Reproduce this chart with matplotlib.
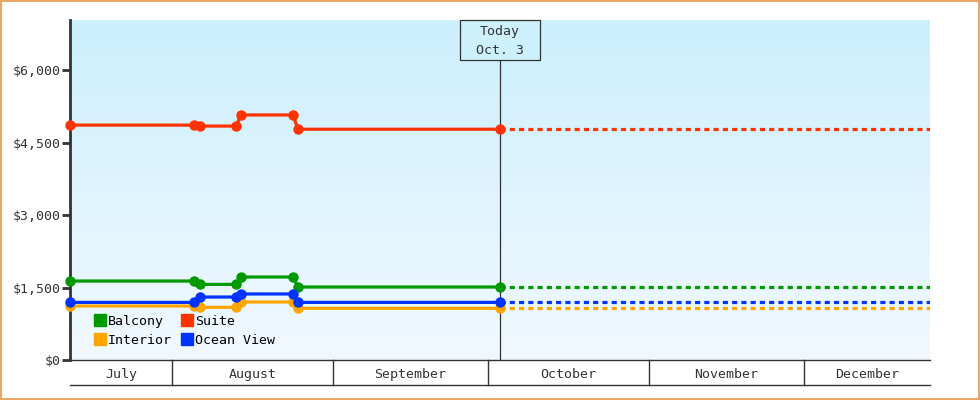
import numpy as np
import matplotlib
matplotlib.use("Agg")
import matplotlib.pyplot as plt
from matplotlib.patches import Rectangle
import matplotlib.transforms as mtransforms

# days counted from July 1
days = [11.3, 35.25, 36.4, 43.35, 44.3, 54.35, 55.3, 94.3]
balcony = [1634, 1634, 1565, 1565, 1717, 1717, 1510, 1510]
suite = [4860, 4860, 4840, 4840, 5070, 5070, 4775, 4775]
interior = [1117, 1117, 1090, 1090, 1200, 1200, 1069, 1069]
ocean_view = [1192, 1192, 1303, 1303, 1366, 1366, 1192, 1192]

months = ["July", "August", "September", "October", "November", "December"]
month_starts = [0, 31, 62, 92, 123, 153, 184]
yticks = [0, 1500, 3000, 4500, 6000]
today = 94.3
today_lines = ["Today", "Oct. 3"]

x_min, x_max = 11.3, 177.3
y_max = 7035

plt.rcParams['font.family'] = ['DejaVu Sans Mono']
dark = '#333333'

fig = plt.figure(figsize=(9.8, 4), dpi=100)
fig.patches.append(Rectangle((0.001, 0.002), 0.998, 0.995, transform=fig.transFigure,
                             fill=False, edgecolor='#e8a865', linewidth=1.5))
ax = fig.add_axes([70/980, 40/400, 860/980, 340/400])
ax.set_xlim(x_min, x_max)
ax.set_ylim(0, y_max)

# background gradient
grad = np.linspace(0, 1, 256).reshape(-1, 1)
top = np.array([204, 239, 253]) / 255
bot = np.array([241, 249, 255]) / 255
img = top * (1 - grad[..., None]) + bot * grad[..., None]
img = img.reshape(256, 1, 3)
ax.imshow(img, extent=[0, 1, 0, 1], transform=ax.transAxes, aspect='auto', zorder=0)

series = [("Balcony", balcony, '#009900'), ("Suite", suite, '#ff3300'),
          ("Interior", interior, '#ffa500'), ("Ocean View", ocean_view, '#0033ff')]
for name, vals, col in series:
    ax.plot(days, vals, color=col, lw=2.3, marker='o', ms=6.5, clip_on=False, zorder=3)
    ax.plot([days[-1], x_max], [vals[-1], vals[-1]], color=col, lw=2.3,
            linestyle=(0, (1.6, 1.3)), zorder=2)

# today marker with label box
trans = mtransforms.blended_transform_factory(ax.transData, ax.transAxes)
box_h = 40 / 340
box_w = 80 / 860 * (x_max - x_min)
ax.plot([today, today], [0, 1 - box_h], color=dark, lw=0.9, transform=trans, zorder=2)
ax.add_patch(Rectangle((today - box_w / 2, 1 - box_h), box_w, box_h, transform=trans,
                       fc='#cdf0fd', ec=dark, lw=0.9, zorder=4, clip_on=False))
ax.text(today, 1 - 12 / 340, today_lines[0], transform=trans, ha='center', va='center',
        fontsize=9.5, color=dark, zorder=5)
ax.text(today, 1 - 31 / 340, today_lines[1], transform=trans, ha='center', va='center',
        fontsize=9.5, color=dark, zorder=5)

# legend
handles = [plt.Line2D([], [], marker='s', color=c, ls='none', ms=9) for _, _, c in series]
labels = [n for n, _, _ in series]
order = [0, 2, 1, 3]
ax.legend([handles[i] for i in order], [labels[i] for i in order], ncol=2, loc='lower left',
          bbox_to_anchor=(0.01, 0.004), frameon=False, fontsize=9.5, handletextpad=-0.1,
          columnspacing=0.5, labelspacing=0.45, handlelength=1.4)

# axes styling
for s in ['top', 'right']:
    ax.spines[s].set_visible(False)
ax.spines['left'].set_linewidth(2)
ax.spines['left'].set_color(dark)
ax.spines['bottom'].set_linewidth(1)
ax.spines['bottom'].set_color(dark)
ax.set_yticks(yticks)
ax.set_yticklabels(["${:,}".format(v) for v in yticks])
ax.tick_params(axis='y', length=6, width=2, color=dark, labelcolor=dark, labelsize=9.5, pad=1)

# month band
band = -25 / 340
ax.plot([x_min, x_max], [band, band], color=dark, lw=1, transform=trans, clip_on=False)
for m in month_starts[1:-1]:
    ax.plot([m, m], [0, band], color=dark, lw=1, transform=trans, clip_on=False)
centers = []
for i in range(len(months)):
    a = max(month_starts[i], x_min)
    b = min(month_starts[i + 1], x_max)
    centers.append((a + b) / 2)
ax.set_xticks(centers)
ax.set_xticklabels(months)
ax.tick_params(axis='x', length=0, labelcolor=dark, labelsize=9.5, pad=6)

fig.savefig("out.png", dpi=100)
